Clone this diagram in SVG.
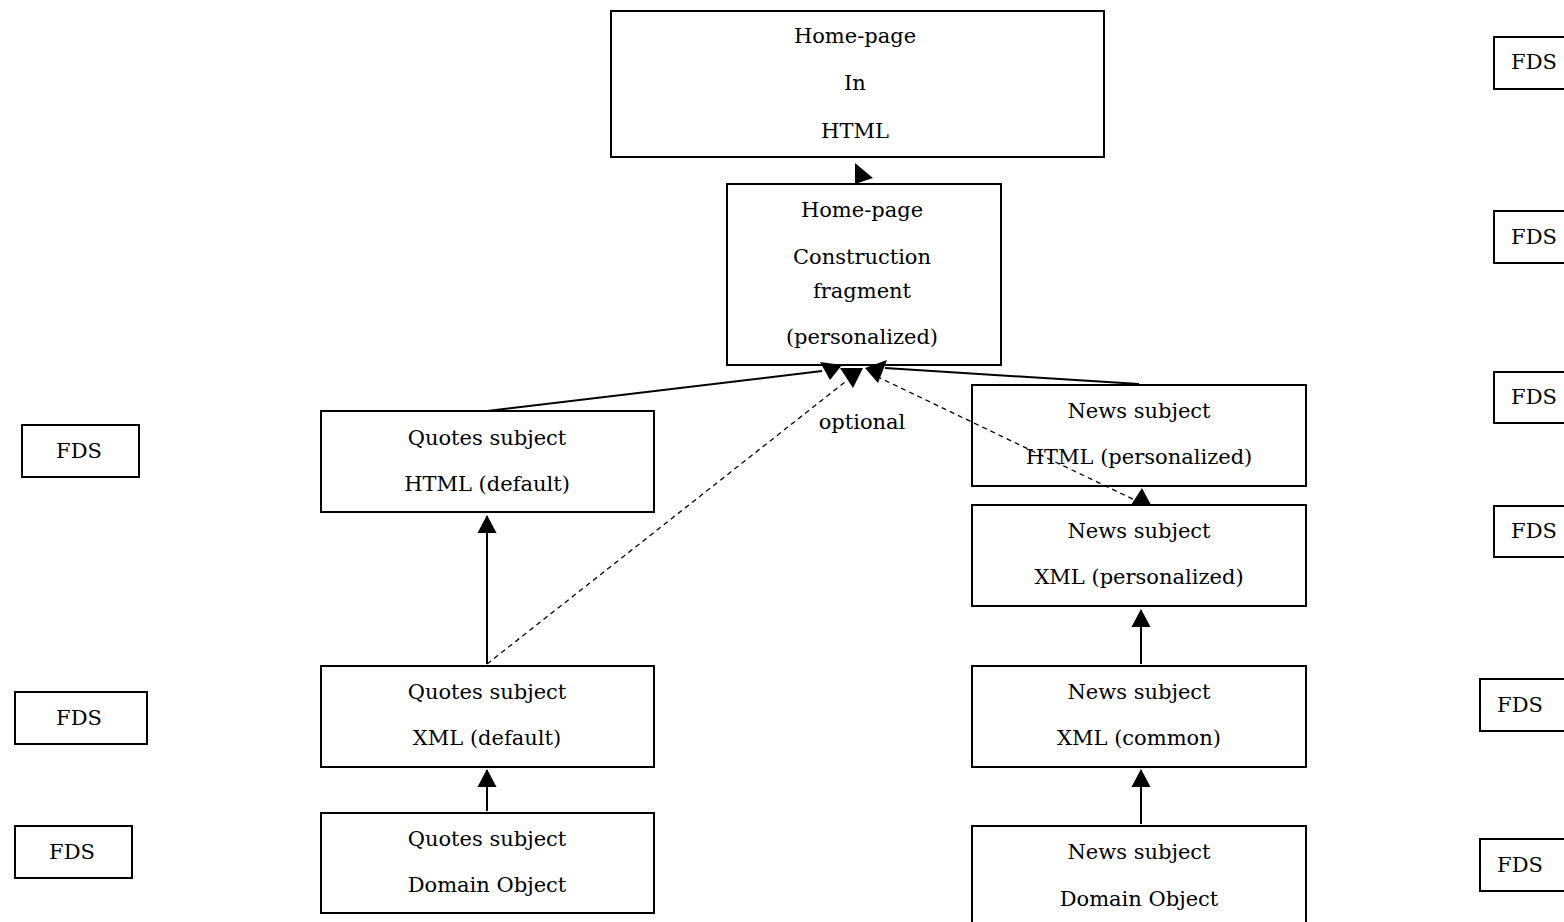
<svg xmlns="http://www.w3.org/2000/svg" width="1564" height="922" viewBox="0 0 1564 922">
  <style>
    .box { fill: #fff; stroke: #000; stroke-width: 2; }
    .lbl { font-family: "DejaVu Serif", "Liberation Serif", serif; font-size: 21px; fill: #000; text-anchor: middle; }
    .solid { fill: none; stroke: #000; stroke-width: 2; }
    .dash { fill: none; stroke: #000; stroke-width: 1.3; stroke-dasharray: 5 4; }
    .head { fill: #000; stroke: none; }
  </style>
  <defs>
    <marker id="up" viewBox="0 0 18 20" refX="17" refY="10" markerWidth="18" markerHeight="20" markerUnits="userSpaceOnUse" orient="auto">
      <path d="M18 10 L0 0.5 L0 19.5 Z" fill="#000"/>
    </marker>
  </defs>
  <rect width="1564" height="922" fill="#fff"/>

  <!-- main nodes -->
  <g id="homepage-html">
    <rect class="box" x="611" y="11" width="493" height="146"/>
    <text class="lbl" x="855" y="43">Home-page</text>
    <text class="lbl" x="855" y="90">In</text>
    <text class="lbl" x="855" y="138">HTML</text>
  </g>
  <g id="construction-fragment">
    <rect class="box" x="727" y="184" width="274" height="181"/>
    <text class="lbl" x="862" y="217">Home-page</text>
    <text class="lbl" x="862" y="264">Construction</text>
    <text class="lbl" x="862" y="298">fragment</text>
    <text class="lbl" x="862" y="344">(personalized)</text>
  </g>
  <g id="quotes-html">
    <rect class="box" x="321" y="411" width="333" height="101"/>
    <text class="lbl" x="487" y="445">Quotes subject</text>
    <text class="lbl" x="487" y="491">HTML (default)</text>
  </g>
  <g id="quotes-xml">
    <rect class="box" x="321" y="666" width="333" height="101"/>
    <text class="lbl" x="487" y="699">Quotes subject</text>
    <text class="lbl" x="487" y="745">XML (default)</text>
  </g>
  <g id="quotes-domain">
    <rect class="box" x="321" y="813" width="333" height="100"/>
    <text class="lbl" x="487" y="846">Quotes subject</text>
    <text class="lbl" x="487" y="892">Domain Object</text>
  </g>
  <g id="news-html">
    <rect class="box" x="972" y="385" width="334" height="101"/>
    <text class="lbl" x="1139" y="418">News subject</text>
    <text class="lbl" x="1139" y="464">HTML (personalized)</text>
  </g>
  <g id="news-xml-personalized">
    <rect class="box" x="972" y="505" width="334" height="101"/>
    <text class="lbl" x="1139" y="538">News subject</text>
    <text class="lbl" x="1139" y="584">XML (personalized)</text>
  </g>
  <g id="news-xml-common">
    <rect class="box" x="972" y="666" width="334" height="101"/>
    <text class="lbl" x="1139" y="699">News subject</text>
    <text class="lbl" x="1139" y="745">XML (common)</text>
  </g>
  <g id="news-domain">
    <rect class="box" x="972" y="826" width="334" height="110"/>
    <text class="lbl" x="1139" y="859">News subject</text>
    <text class="lbl" x="1139" y="906">Domain Object</text>
  </g>

  <!-- FDS markers, left column -->
  <g id="fds-l1">
    <rect class="box" x="22" y="425" width="117" height="52"/>
    <text class="lbl" x="79" y="458">FDS</text>
  </g>
  <g id="fds-l2">
    <rect class="box" x="15" y="692" width="132" height="52"/>
    <text class="lbl" x="79" y="725">FDS</text>
  </g>
  <g id="fds-l3">
    <rect class="box" x="15" y="826" width="117" height="52"/>
    <text class="lbl" x="72" y="859">FDS</text>
  </g>

  <!-- FDS markers, right column -->
  <g id="fds-r1">
    <rect class="box" x="1494" y="37" width="100" height="52"/>
    <text class="lbl" x="1534" y="69">FDS</text>
  </g>
  <g id="fds-r2">
    <rect class="box" x="1494" y="211" width="100" height="52"/>
    <text class="lbl" x="1534" y="244">FDS</text>
  </g>
  <g id="fds-r3">
    <rect class="box" x="1494" y="372" width="100" height="51"/>
    <text class="lbl" x="1534" y="404">FDS</text>
  </g>
  <g id="fds-r4">
    <rect class="box" x="1494" y="506" width="100" height="51"/>
    <text class="lbl" x="1534" y="538">FDS</text>
  </g>
  <g id="fds-r5">
    <rect class="box" x="1480" y="679" width="120" height="52"/>
    <text class="lbl" x="1520" y="712">FDS</text>
  </g>
  <g id="fds-r6">
    <rect class="box" x="1480" y="839" width="120" height="52"/>
    <text class="lbl" x="1520" y="872">FDS</text>
  </g>

  <!-- connectors, drawn above the boxes -->
  <g id="connectors">
    <!-- construction fragment -> home-page HTML -->
    <polygon class="head" points="855,163 873,178 855,184"/>
    <!-- quotes HTML -> construction fragment -->
    <polyline class="solid" points="487,411 822,371"/>
    <polygon class="head" points="820,362 842,365 830,380"/>
    <!-- news HTML -> construction fragment -->
    <polyline class="solid" points="1139,384 885,368"/>
    <polygon class="head" points="865,368 887,360 878,383"/>
    <!-- quotes XML -> construction fragment (optional) -->
    <polyline class="dash" points="487,664 845,382"/>
    <polygon class="head" points="840,368 863,368 853,388"/>
    <!-- news XML personalized -> construction fragment (optional) -->
    <polyline class="dash" points="1141,503 880,378"/>
    <!-- news XML personalized -> news HTML -->
    <polygon class="head" points="1142,488 1151,505 1131,505"/>
    <!-- vertical arrows -->
    <line class="solid" x1="487" y1="664" x2="487" y2="516" marker-end="url(#up)"/>
    <line class="solid" x1="487" y1="811" x2="487" y2="770" marker-end="url(#up)"/>
    <line class="solid" x1="1141" y1="664" x2="1141" y2="610" marker-end="url(#up)"/>
    <line class="solid" x1="1141" y1="824" x2="1141" y2="770" marker-end="url(#up)"/>
    <text class="lbl" x="862" y="429">optional</text>
  </g>
</svg>
